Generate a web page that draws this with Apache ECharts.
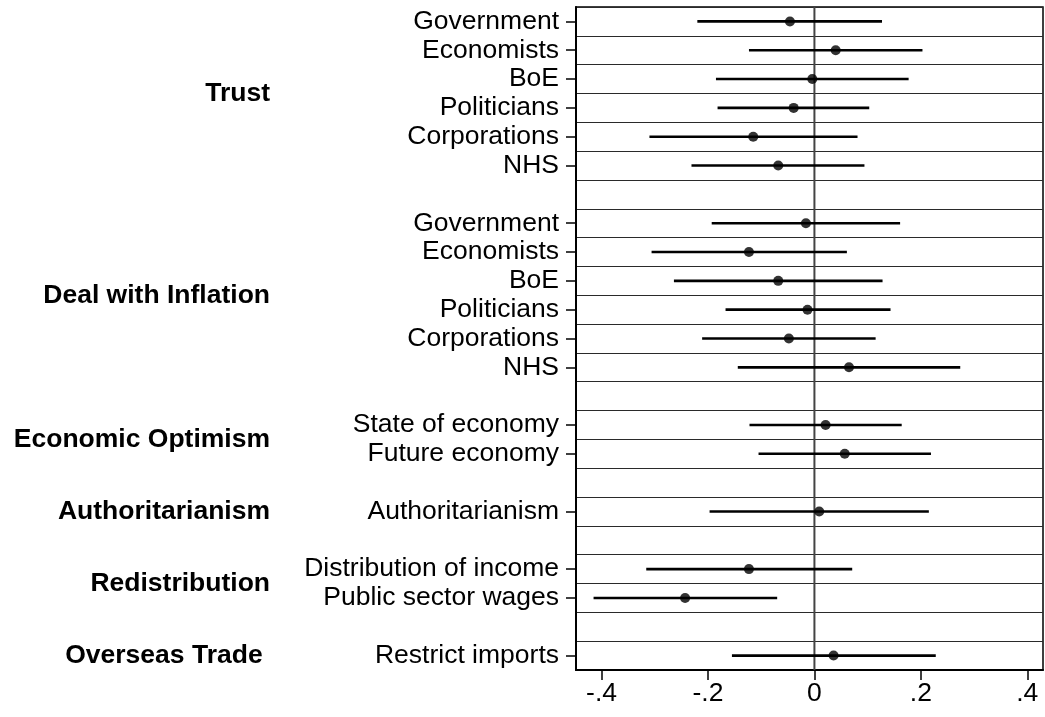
<!DOCTYPE html>
<html>
<head>
<meta charset="utf-8">
<script src="https://cdn.jsdelivr.net/npm/echarts@6/dist/echarts.min.js"></script>
<style>
  html, body { margin: 0; padding: 0; background: #fff; }
  #chart { width: 1045px; height: 717px; }
</style>
</head>
<body>
<div id="chart"></div>
<script>
// Row labels, top to bottom; empty strings are spacer rows between groups
const rowLabels = [
  'Government', 'Economists', 'BoE', 'Politicians', 'Corporations', 'NHS', '',
  'Government', 'Economists', 'BoE', 'Politicians', 'Corporations', 'NHS', '',
  'State of economy', 'Future economy', '',
  'Authoritarianism', '',
  'Distribution of income', 'Public sector wages', '',
  'Restrict imports'
];

// Point estimates and confidence bounds per row (null on spacer rows)
const estimates = [
  -0.046, 0.040, -0.004, -0.039, -0.115, -0.068, null,
  -0.016, -0.123, -0.068, -0.013, -0.048, 0.065, null,
  0.021, 0.057, null,
  0.009, null,
  -0.123, -0.243, null,
  0.036
];
const ciLower = [
  -0.220, -0.123, -0.185, -0.182, -0.310, -0.231, null,
  -0.193, -0.306, -0.264, -0.167, -0.211, -0.144, null,
  -0.122, -0.105, null,
  -0.197, null,
  -0.316, -0.415, null,
  -0.155
];
const ciUpper = [
  0.127, 0.203, 0.177, 0.103, 0.081, 0.094, null,
  0.161, 0.061, 0.128, 0.143, 0.115, 0.274, null,
  0.164, 0.219, null,
  0.215, null,
  0.071, -0.070, null,
  0.228
];

// Group headings and the rows each one spans
const groupNames = ['Trust', 'Deal with Inflation', 'Economic Optimism', 'Authoritarianism', 'Redistribution', 'Overseas Trade '];
const groupFirstRow = [0, 7, 14, 17, 19, 22];
const groupLastRow = [5, 12, 15, 17, 20, 22];

// x-axis ticks
const xTickValues = [-0.4, -0.2, 0, 0.2, 0.4];
const xTickLabels = ['-.4', '-.2', '0', '.2', '.4'];

const FONT = '"Liberation Sans", Arial, Helvetica, sans-serif';

const ciData = [];
const pointData = [];
rowLabels.forEach((lab, i) => {
  if (estimates[i] === null) return;
  ciData.push([ciLower[i], ciUpper[i], i]);
  pointData.push([estimates[i], i]);
});

const chart = echarts.init(document.getElementById('chart'), null, { renderer: 'canvas' });

const option = {
  animation: false,
  backgroundColor: '#fff',
  grid: {
    left: 576, right: 2, top: 7, bottom: 47,
    show: true, borderColor: '#000', borderWidth: 1.5, backgroundColor: 'transparent'
  },
  xAxis: {
    type: 'value',
    min: -0.448,
    max: 0.4295,
    splitLine: { show: false },
    axisLine: { show: true, onZero: false, lineStyle: { color: '#000', width: 2 } },
    axisTick: {
      show: true, length: 10, customValues: xTickValues,
      lineStyle: { color: '#000', width: 1.5 }
    },
    axisLabel: {
      customValues: xTickValues,
      margin: 10,
      color: '#000',
      fontSize: 26.5,
      fontFamily: FONT,
      formatter: (v) => {
        let best = 0;
        xTickValues.forEach((t, k) => {
          if (Math.abs(t - v) < Math.abs(xTickValues[best] - v)) best = k;
        });
        return xTickLabels[best];
      }
    }
  },
  yAxis: {
    type: 'category',
    data: rowLabels,
    inverse: true,
    boundaryGap: true,
    axisLine: { show: true, onZero: false, lineStyle: { color: '#000', width: 2 } },
    axisTick: {
      show: true,
      alignWithLabel: true,
      length: 10,
      interval: (idx, val) => val !== '',
      lineStyle: { color: '#000', width: 1.5 }
    },
    axisLabel: {
      interval: 0,
      margin: 17,
      color: '#000',
      fontSize: 26.5,
      fontFamily: FONT
    },
    splitLine: {
      show: true,
      interval: 0,
      lineStyle: { color: '#2a2a2a', width: 1 }
    }
  },
  series: [
    {
      // vertical reference line at zero, spanning the plot height
      type: 'custom',
      z: 1,
      silent: true,
      data: [[0]],
      encode: { x: 0 },
      renderItem: (params, api) => {
        const cs = params.coordSys;
        const x = api.coord([api.value(0), 0])[0];
        return {
          type: 'line',
          shape: { x1: x, y1: cs.y, x2: x, y2: cs.y + cs.height },
          style: { stroke: '#444', lineWidth: 2 }
        };
      }
    },
    {
      // confidence intervals
      type: 'custom',
      z: 2,
      silent: true,
      data: ciData,
      encode: { x: [0, 1], y: 2 },
      renderItem: (params, api) => {
        const a = api.coord([api.value(0), api.value(2)]);
        const b = api.coord([api.value(1), api.value(2)]);
        return {
          type: 'line',
          shape: { x1: a[0], y1: a[1], x2: b[0], y2: b[1] },
          style: { stroke: '#000', lineWidth: 2.6 }
        };
      }
    },
    {
      // point estimates
      type: 'scatter',
      z: 3,
      silent: true,
      symbol: 'circle',
      symbolSize: 10,
      itemStyle: { color: '#000' },
      data: pointData
    }
  ]
};

chart.setOption(option);

// Group headings, vertically centred on the rows they cover
const headings = groupNames.map((name, g) => {
  const y1 = chart.convertToPixel({ yAxisIndex: 0 }, groupFirstRow[g]);
  const y2 = chart.convertToPixel({ yAxisIndex: 0 }, groupLastRow[g]);
  return {
    type: 'text',
    x: 270,
    y: (y1 + y2) / 2,
    style: {
      text: name,
      fill: '#000',
      font: 'bold 26.5px ' + FONT,
      textAlign: 'right',
      textVerticalAlign: 'middle'
    }
  };
});
chart.setOption({ graphic: { elements: headings } });
</script>
</body>
</html>
